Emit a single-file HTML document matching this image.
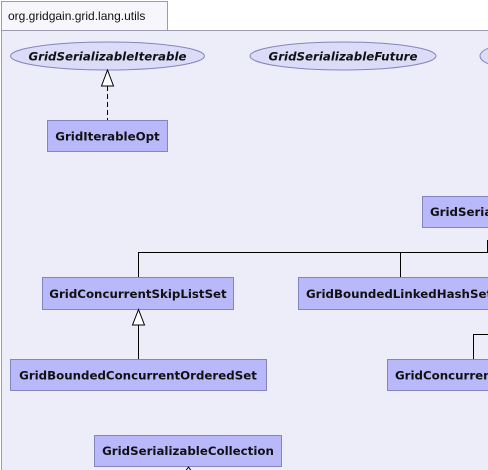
<!DOCTYPE html>
<html><head><style>
html,body{margin:0;padding:0;background:#fff;width:488px;height:470px;overflow:hidden}
svg{display:block}
text{font-family:"DejaVu Sans","Liberation Sans",sans-serif;font-size:11.8px;font-weight:bold;fill:#111}
.b{fill:#b8b8fa;stroke:#8585bd;stroke-width:1}
.e{fill:#dcdcf8;stroke:#8585bd;stroke-width:1}
</style></head><body>
<svg width="488" height="470" xmlns="http://www.w3.org/2000/svg">
<rect x="1.5" y="30.5" width="490" height="445" fill="#ededfa" stroke="#9a9ab0"/>
<rect x="1.5" y="1.5" width="166" height="29" fill="#f6f6fc" stroke="#9a9ab0"/>
<text x="8" y="20" style="font-weight:normal;font-size:12px;font-family:'Liberation Sans',sans-serif">org.gridgain.grid.lang.utils</text>

<ellipse class="e" cx="107.5" cy="56" rx="97" ry="14"/>
<text x="107.5" y="60.5" text-anchor="middle" font-style="italic">GridSerializableIterable</text>
<ellipse class="e" cx="343" cy="56" rx="93" ry="14"/>
<text x="343" y="60.5" text-anchor="middle" font-style="italic">GridSerializableFuture</text>
<ellipse class="e" cx="530" cy="56" rx="50" ry="14"/>

<line x1="107.5" y1="86" x2="107.5" y2="120" stroke="#000" stroke-dasharray="5,3"/>
<polygon points="107.5,70 101.5,86 113.5,86" fill="#fff" stroke="#000"/>
<rect class="b" x="47.5" y="120.5" width="120" height="31"/>
<text x="107.5" y="140.5" text-anchor="middle">GridIterableOpt</text>

<rect class="b" x="422.5" y="196.5" width="80" height="31"/>
<text x="430" y="216">GridSerializableSet</text>
<line x1="487.5" y1="240" x2="487.5" y2="252" stroke="#000"/>
<polyline points="138.5,277 138.5,252.5 490,252.5" fill="none" stroke="#000"/>
<line x1="400.5" y1="252" x2="400.5" y2="277" stroke="#000"/>

<rect class="b" x="42.5" y="277.5" width="191" height="32"/>
<text x="138" y="298" text-anchor="middle">GridConcurrentSkipListSet</text>
<rect class="b" x="298.5" y="277.5" width="200" height="32"/>
<text x="306" y="298">GridBoundedLinkedHashSet</text>

<line x1="138.5" y1="325" x2="138.5" y2="359" stroke="#000"/>
<polygon points="138.5,309.5 132.5,325 144.5,325" fill="#fff" stroke="#000"/>
<rect class="b" x="10.5" y="359.5" width="256" height="31"/>
<text x="138" y="379.5" text-anchor="middle">GridBoundedConcurrentOrderedSet</text>

<polyline points="473.5,359 473.5,334.5 490,334.5" fill="none" stroke="#000"/>
<rect class="b" x="387.5" y="359.5" width="120" height="31"/>
<text x="395" y="379.5">GridConcurrentHashSet</text>

<rect class="b" x="94.5" y="435.5" width="187" height="31"/>
<text x="188" y="455" text-anchor="middle">GridSerializableCollection</text>
<polygon points="188.5,467 185,472 192,472" fill="#fff" stroke="#000"/>
</svg>
</body></html>
